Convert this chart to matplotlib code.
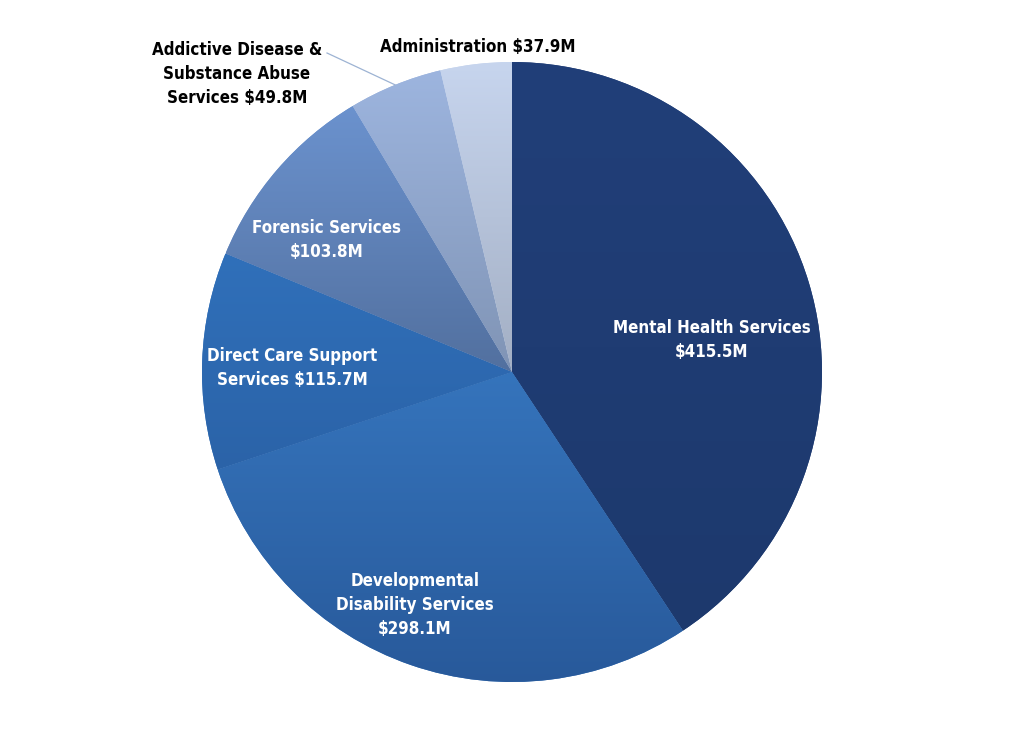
import numpy as np
import matplotlib.pyplot as plt
from matplotlib import font_manager
from matplotlib.colors import LinearSegmentedColormap

# ── Data ─────────────────────────────────────────────────────
labels = ['Mental Health Services\n$415.5M',
          'Developmental\nDisability Services\n$298.1M',
          'Direct Care Support\nServices $115.7M',
          'Forensic Services\n$103.8M',
          'Addictive Disease &\nSubstance Abuse\nServices $49.8M',
          'Administration $37.9M']
values = [415.5, 298.1, 115.7, 103.8, 49.8, 37.9]

# gradient colours per slice (top -> bottom)
top_colors = ['#213F79', '#3574BC', '#3070BA', '#6B92CE', '#9DB5DF', '#C7D5EE']
bottom_colors = ['#1D396D', '#28599A', '#2B63A8', '#52709F', '#8094B5', '#A3AFC4']

# label centres (x right, y up, pie centre at 0,0, 1 unit = 1 px)
label_xy = [(200, 32), (-97, -233), (-220, 4), (-185, 132), (-275, 298), (-34, 325)]
label_colors = ['white', 'white', 'white', 'white', 'black', 'black']

# ── pick a narrow bold font if one is around ────────────────
fonts = font_manager.fontManager.ttflist
if any(f.name == 'Liberation Sans Narrow' for f in fonts):
    font_kw = dict(family='Liberation Sans Narrow', fontsize=13.6)
elif any(f.name == 'DejaVu Sans' and f.stretch == 'condensed' for f in fonts):
    font_kw = dict(family='DejaVu Sans', stretch='condensed', fontsize=12.2)
else:
    font_kw = dict(family='DejaVu Sans', fontsize=11.2)

fig = plt.figure(figsize=(10.24, 7.43), dpi=100)
ax = fig.add_axes([0, 0, 1, 1])

wedges, _ = ax.pie(values, radius=310, startangle=90, counterclock=False,
                   colors=top_colors, wedgeprops=dict(linewidth=0))

# ── vertical gradient inside each slice ─────────────────────
grad = np.linspace(0, 1, 256).reshape(-1, 1)
for w, c_top, c_bot in zip(wedges, top_colors, bottom_colors):
    verts = w.get_path().vertices
    x0, x1 = verts[:, 0].min(), verts[:, 0].max()
    y0, y1 = verts[:, 1].min(), verts[:, 1].max()
    cmap = LinearSegmentedColormap.from_list('g', [c_bot, c_top])
    im = ax.imshow(grad, cmap=cmap, extent=(x0, x1, y0, y1), origin='lower',
                   aspect='auto', zorder=2, interpolation='bilinear')
    im.set_clip_path(w)

# ── labels ───────────────────────────────────────────────────
for lab, (x, y), col in zip(labels, label_xy, label_colors):
    ax.text(x, y, lab, ha='center', va='center', color=col,
            fontweight='bold', linespacing=1.45, zorder=5, **font_kw)

# leader line for the addictive disease slice
w = wedges[4]
mid = np.deg2rad((w.theta1 + w.theta2) / 2)
ax.plot([-185, 310 * np.cos(mid)], [319, 310 * np.sin(mid)],
        color='#9DB3D3', linewidth=0.9, zorder=4)

ax.set_xlim(-512, 512)
ax.set_ylim(-371, 372)
ax.set_aspect('equal')
ax.axis('off')

fig.savefig('out.png', dpi=100)
